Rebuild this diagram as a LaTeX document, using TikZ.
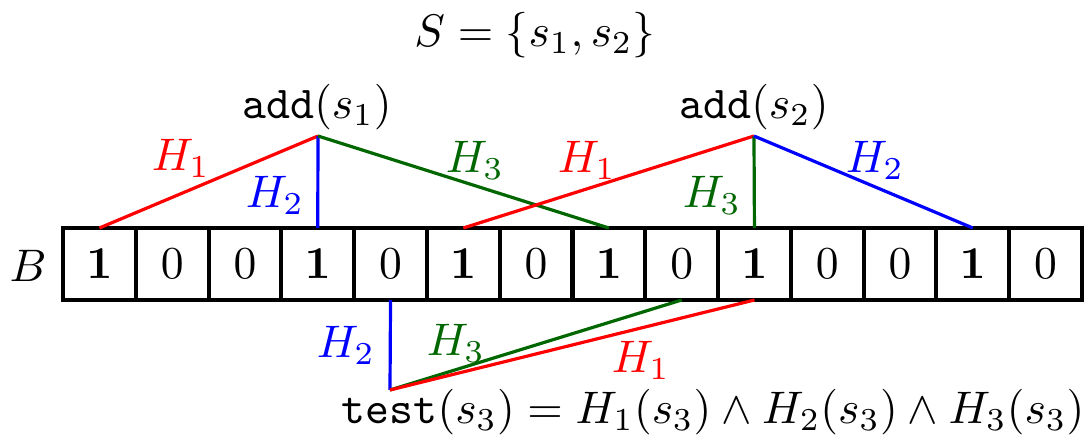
\documentclass[tikz,border=0pt]{standalone}
\usepackage{amsmath}
\definecolor{hred}{rgb}{1,0,0}
\definecolor{hblue}{rgb}{0,0,1}
\definecolor{hgreen}{rgb}{0,0.4,0}
\tikzset{
  cell/.style={draw, line width=0.9pt, minimum width=15.95pt, minimum height=15.78pt, inner sep=0pt, outer sep=0pt},
  hone/.style={draw=hred, line width=0.7pt},
  htwo/.style={draw=hblue, line width=0.7pt},
  hthree/.style={draw=hgreen, line width=0.7pt},
  lab/.style={inner sep=0pt}
}
\begin{document}
\begin{tikzpicture}[x=0.2192pt,y=-0.2192pt]
\useasboundingbox (0,0) rectangle (1085,437);
\node[lab] (S) at (535,35) {$S=\{s_1,s_2\}$};
\node[lab] (add1) at (317,107) {$\texttt{add}(s_1)$};
\node[lab] (add2) at (754,107) {$\texttt{add}(s_2)$};
\node[lab] (B) at (28,266) {$B$};
\foreach \v [count=\i from 0] in {1,0,0,1,0,1,0,1,0,1,0,0,1,0} {
  \node[cell] (c\i) at ({63+72.786*(\i+0.5)},264) {\ifnum\v=1 $\mathbf{1}$\else $0$\fi};
}
\coordinate (p1) at (318,136);
\coordinate (p2) at (754,136);
\coordinate (p3) at (390,390);
% add s1
\draw[hone] (p1) -- (c0.north);
\draw[htwo] (p1) -- (c3.north);
\draw[hthree] (p1) -- (c7.north);
% add s2
\draw[hone] (p2) -- (c5.north);
\draw[hthree] (p2) -- (c9.north);
\draw[htwo] (p2) -- (c12.north);
% test s3
\draw[htwo] (p3) -- (c4.south);
\draw[hthree] (p3) -- (c8.south);
\draw[hone] (p3) -- (c9.south);
% labels
\node[lab, text=hred] (l11) at (181,158) {$H_1$};
\node[lab, text=hblue] (l12) at (275,195) {$H_2$};
\node[lab, text=hgreen] (l13) at (475,160) {$H_3$};
\node[lab, text=hred] (l21) at (587,160) {$H_1$};
\node[lab, text=hgreen] (l23) at (712,195) {$H_3$};
\node[lab, text=hblue] (l22) at (875,160) {$H_2$};
\node[lab, text=hblue] (l32) at (346,345) {$H_2$};
\node[lab, text=hgreen] (l33) at (456,343) {$H_3$};
\node[lab, text=hred] (l31) at (641,360) {$H_1$};
\node[lab] (test) at (713,412) {$\texttt{test}(s_3)=H_1(s_3)\wedge H_2(s_3)\wedge H_3(s_3)$};
\end{tikzpicture}
\end{document}
